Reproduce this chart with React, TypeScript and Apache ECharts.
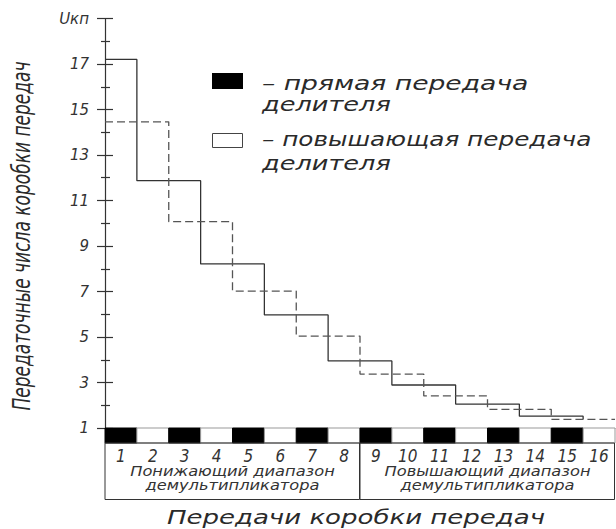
import React, { useEffect, useRef } from 'react';
import * as echarts from 'echarts';

// ---- data ----
const gears = [1, 2, 3, 4, 5, 6, 7, 8, 9, 10, 11, 12, 13, 14, 15, 16];
const directGears = [1, 3, 5, 7, 9, 11, 13, 15];
const directRatios = [17.2, 11.87, 8.21, 5.97, 3.95, 2.89, 2.05, 1.52];
const overdriveGears = [2, 4, 6, 8, 10, 12, 14, 16];
const overdriveRatios = [14.46, 10.07, 7.02, 5.04, 3.37, 2.41, 1.82, 1.38];
const yMin = 1;
const yMax = 19;
const yTopLabel = 'Uкп';
const rangeFirst = [1, 9];
const rangeLast = [8, 16];
const rangeLabels = [
  'Понижающий диапазон\nдемультипликатора',
  'Повышающий диапазон\nдемультипликатора',
];
const legendLines = [
  ['– прямая передача', 'делителя'],
  ['– повышающая передача', 'делителя'],
];
const xTitle = 'Передачи коробки передач';
const yTitle = 'Передаточные числа коробки передач';

const FONT = '"DejaVu Sans", "Liberation Sans", sans-serif';
const INK = '#2a2a2a';

export default function App() {
  const ref = useRef<HTMLDivElement>(null);

  useEffect(() => {
    if (!ref.current) return;
    const chart = echarts.init(ref.current, undefined, { renderer: 'svg' });

    const solidData: number[][] = directGears.map((g, i) => [i === 0 ? 0 : g - 2, directRatios[i]]);
    solidData.push([directGears[directGears.length - 1], overdriveRatios[overdriveRatios.length - 1]]);
    const dashedData: number[][] = overdriveGears.map((g, i) => [g - 2, overdriveRatios[i]]);
    dashedData.push([overdriveGears[overdriveGears.length - 1], overdriveRatios[overdriveRatios.length - 1]]);

    const textStyle = (text: string, size: number, align: string, extra: any = {}) => ({
      text,
      fill: INK,
      fontSize: size,
      fontFamily: FONT,
      fontStyle: 'italic',
      textAlign: align,
      textVerticalAlign: 'middle',
      ...extra,
    });

    const legendGraphics: any[] = [
      { type: 'rect', shape: { x: 212, y: 73, width: 31, height: 16 }, style: { fill: '#000' } },
      { type: 'rect', shape: { x: 212.5, y: 133.5, width: 30, height: 14 }, style: { fill: '#fff', stroke: '#444', lineWidth: 1 } },
    ];
    const legendY = [[83.5, 104.5], [138.5, 163.5]];
    const legendScale = [[1.33, 1.28], [1.235, 1.28]];
    legendLines.forEach((lines, i) => {
      lines.forEach((t, j) => {
        legendGraphics.push({
          type: 'text',
          x: 262,
          y: legendY[i][j],
          scaleX: legendScale[i][j],
          style: textStyle(t, 20, 'left'),
        });
      });
    });

    const option: any = {
      animation: false,
      backgroundColor: '#fff',
      grid: [
        { left: 105, right: 1, top: 18.5, height: 409.5 },
        { left: 105, right: 1, top: 428, height: 72 },
      ],
      xAxis: [
        {
          gridIndex: 0, type: 'value', min: 0, max: 16, interval: 1,
          axisLine: { show: true, lineStyle: { color: '#888', width: 1 } },
          axisTick: { show: false }, axisLabel: { show: false }, splitLine: { show: false },
        },
        { gridIndex: 1, type: 'value', min: 0, max: 16, show: false },
      ],
      yAxis: [
        {
          gridIndex: 0, type: 'value', min: yMin, max: yMax, interval: 2, position: 'left',
          axisLine: { show: true, lineStyle: { color: '#333', width: 1.2 } },
          axisTick: { show: true, length: 8, lineStyle: { color: '#333', width: 1.2 } },
          minorTick: { show: true, splitNumber: 2, length: 4, lineStyle: { color: '#333', width: 1.2 } },
          splitLine: { show: false },
          axisLabel: {
            margin: 16,
            color: '#333',
            fontSize: 15,
            fontStyle: 'italic',
            fontFamily: FONT,
            formatter: (v: number) => (v === yMax ? yTopLabel : String(v)),
          },
        },
        {
          gridIndex: 0, type: 'value', min: yMin, max: yMax, interval: 2, position: 'left',
          axisLine: { show: false },
          axisTick: { show: true, inside: true, length: 8, lineStyle: { color: '#333', width: 1.2 } },
          minorTick: { show: true, splitNumber: 2, length: 5, lineStyle: { color: '#333', width: 1.2 } },
          splitLine: { show: false },
          axisLabel: { show: false },
        },
        { gridIndex: 1, type: 'value', min: 0, max: 72, inverse: true, show: false },
      ],
      series: [
        {
          name: 'прямая передача делителя',
          type: 'line', xAxisIndex: 0, yAxisIndex: 0, step: 'end',
          symbol: 'none', data: solidData,
          lineStyle: { color: '#333', width: 1.3 },
        },
        {
          name: 'повышающая передача делителя',
          type: 'line', xAxisIndex: 0, yAxisIndex: 0, step: 'end',
          symbol: 'none', data: dashedData,
          lineStyle: { color: '#555', width: 1.3, type: [8, 4] },
        },
        {
          type: 'custom', xAxisIndex: 1, yAxisIndex: 2,
          data: gears.map((g) => [g, 0]),
          encode: { x: 0, y: 1 },
          renderItem: (params: any, api: any) => {
            const g = api.value(0);
            const p0 = api.coord([g - 1, 0]);
            const p1 = api.coord([g, 15]);
            const c = api.coord([g - 0.5, 27.5]);
            const odd = g % 2 === 1;
            return {
              type: 'group',
              children: [
                {
                  type: 'rect',
                  shape: { x: p0[0], y: p0[1], width: p1[0] - p0[0], height: p1[1] - p0[1] },
                  style: { fill: odd ? '#000' : '#fff', stroke: odd ? '#000' : '#999', lineWidth: 1 },
                },
                {
                  type: 'text', x: c[0], y: c[1], scaleX: 0.85,
                  style: textStyle(String(g), 18, 'center', { fill: '#333' }),
                },
              ],
            };
          },
        },
        {
          type: 'custom', xAxisIndex: 1, yAxisIndex: 2,
          data: rangeFirst.map((f, i) => [f, rangeLast[i], i]),
          encode: { x: [0, 1], y: 2 },
          renderItem: (params: any, api: any) => {
            const f = api.value(0);
            const l = api.value(1);
            const i = api.value(2);
            const p0 = api.coord([f - 1, 15]);
            const p1 = api.coord([l, 71.5]);
            const cx = (p0[0] + p1[0]) / 2;
            const lines = rangeLabels[i].split('\n');
            const ys = [api.coord([0, 43])[1], api.coord([0, 57])[1]];
            return {
              type: 'group',
              children: [
                {
                  type: 'rect',
                  shape: { x: p0[0], y: p0[1], width: p1[0] - p0[0] - 0.5, height: p1[1] - p0[1] },
                  style: { fill: 'none', stroke: '#333', lineWidth: 1 },
                },
                ...lines.map((t, j) => ({
                  type: 'text', x: cx, y: ys[j], scaleX: 1.16,
                  style: textStyle(t, 14, 'center', { fill: '#333' }),
                })),
              ],
            };
          },
        },
      ],
      graphic: [
        ...legendGraphics,
        {
          type: 'text', x: 356, y: 517, scaleX: 1.37,
          style: textStyle(xTitle, 19, 'center'),
        },
        {
          type: 'text', x: 22, y: 236, rotation: Math.PI / 2, scaleX: 0.71,
          style: textStyle(yTitle, 24, 'center'),
        },
      ],
    };

    chart.setOption(option);
    return () => chart.dispose();
  }, []);

  return (
    <div
      ref={ref}
      style={{ position: 'fixed', left: 0, top: 0, width: 616, height: 529, background: '#fff' }}
    />
  );
}
